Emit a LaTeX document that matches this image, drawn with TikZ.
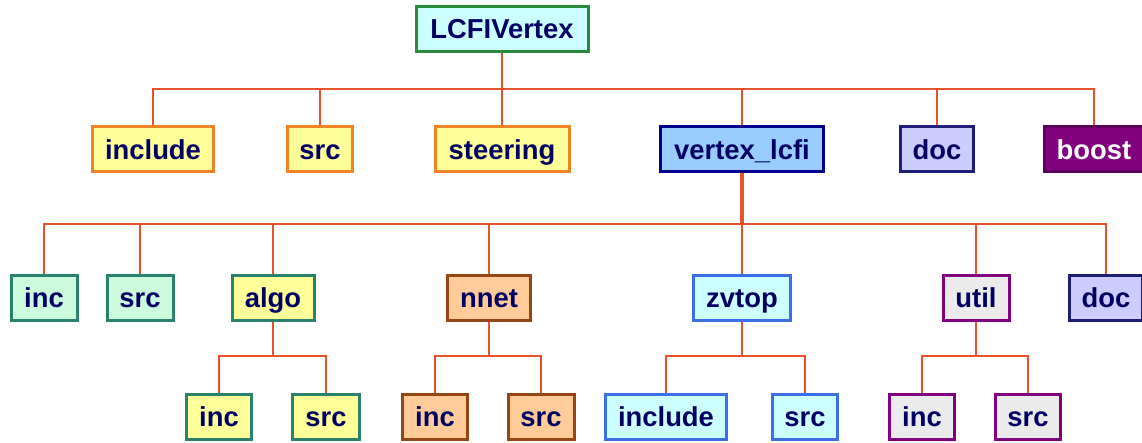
\documentclass[tikz,border=0pt]{standalone}
\usepackage{fontspec}
\setmainfont{Liberation Sans}

\definecolor{navy}{RGB}{0,0,100}
\definecolor{wire}{RGB}{232,82,40}
\definecolor{cyanfill}{RGB}{204,255,255}
\definecolor{rootdraw}{RGB}{40,140,60}
\definecolor{yelfill}{RGB}{255,255,153}
\definecolor{orng}{RGB}{240,130,40}
\definecolor{bluefill}{RGB}{153,204,255}
\definecolor{bluedraw}{RGB}{0,0,140}
\definecolor{lavfill}{RGB}{204,204,255}
\definecolor{lavdraw}{RGB}{30,30,120}
\definecolor{purp}{RGB}{128,0,128}
\definecolor{purpdraw}{RGB}{90,0,90}
\definecolor{mintfill}{RGB}{204,250,220}
\definecolor{teal}{RGB}{40,130,110}
\definecolor{peach}{RGB}{255,204,153}
\definecolor{brown}{RGB}{150,70,20}
\definecolor{zvdraw}{RGB}{60,110,230}
\definecolor{greyfill}{RGB}{235,235,235}

\begin{document}
\begin{tikzpicture}[
    x=0.5pt, y=-0.5pt,
    box/.style={draw, line width=1.5pt, inner sep=0pt, minimum height=22.5pt, text=navy,
      text height=10pt, text depth=0pt, font=\bfseries\fontsize{13.7}{16}\selectfont},
    rootbox/.style={box, fill=cyanfill, draw=rootdraw},
    yelbox/.style={box, fill=yelfill, draw=orng},
    vtxbox/.style={box, fill=bluefill, draw=bluedraw},
    docbox/.style={box, fill=lavfill, draw=lavdraw},
    boostbox/.style={box, fill=purp, draw=purpdraw, text=white},
    mintbox/.style={box, fill=mintfill, draw=teal},
    algobox/.style={box, fill=yelfill, draw=teal},
    nnetbox/.style={box, fill=peach, draw=brown},
    zvbox/.style={box, fill=cyanfill, draw=zvdraw},
    utilbox/.style={box, fill=greyfill, draw=purp},
    link/.style={draw=wire, line width=1pt}
  ]
    \useasboundingbox (0,0) rectangle (1142,443);

    % Top node
    \node[rootbox, minimum width=86pt] (root) at (502,29) {LCFIVertex};

    % First level
    \node[yelbox, minimum width=60.5pt] (inc) at (153,149.5) {include};
    \node[yelbox, minimum width=32.5pt] (src) at (320,149.5) {src};
    \node[yelbox, minimum width=67pt] (steer) at (502,149.5) {steering};
    \node[vtxbox, minimum width=81.5pt] (vtx) at (742,149.5) {vertex\_lcfi};
    \node[docbox, minimum width=36.5pt] (doc) at (937,149.5) {doc};
    \node[boostbox, minimum width=49.5pt] (boost) at (1094,149.5) {boost};

    % Second level (inside vertex_lcfi)
    \node[mintbox, minimum width=33pt] (vinc) at (44,298) {inc};
    \node[mintbox, minimum width=33pt] (vsrc) at (140,298) {src};
    \node[algobox, minimum width=41pt] (algo) at (273,298) {algo};
    \node[nnetbox, minimum width=41.5pt] (nnet) at (489,298) {nnet};
    \node[zvbox, minimum width=48.5pt] (zvtop) at (742,298) {zvtop};
    \node[utilbox, minimum width=33pt] (util) at (976,298) {util};
    \node[docbox, minimum width=36.5pt] (vdoc) at (1106,298) {doc};

    % Third level
    \node[algobox, minimum width=32.5pt] (ainc) at (219,417) {inc};
    \node[algobox, minimum width=33.5pt] (asrc) at (326,417) {src};
    \node[nnetbox, minimum width=32.5pt] (ninc) at (435,417) {inc};
    \node[nnetbox, minimum width=33pt] (nsrc) at (541,417) {src};
    \node[zvbox, minimum width=60.5pt] (zinc) at (666,417) {include};
    \node[zvbox, minimum width=32.5pt] (zsrc) at (805,417) {src};
    \node[utilbox, minimum width=32.5pt] (uinc) at (922,417) {inc};
    \node[utilbox, minimum width=32.5pt] (usrc) at (1028,417) {src};

    % Bus junctions
    \coordinate (bus1) at (502,89);
    \coordinate (bus2) at (742,224);
    \coordinate (abus) at (273,356);
    \coordinate (nbus) at (489,356);
    \coordinate (zbus) at (742,356);
    \coordinate (ubus) at (976,356);

    % Top tree
    \draw[link] (root.south) -- (steer.north);
    \draw[link] (bus1) -| (inc.north);
    \draw[link] (bus1) -| (src.north);
    \draw[link] (bus1) -| (vtx.north);
    \draw[link] (bus1) -| (doc.north);
    \draw[link] (bus1) -| (boost.north);

    % vertex_lcfi tree
    \draw[link, line width=2pt] (vtx.south) -- (bus2);
    \draw[link] (bus2) -| (vinc.north);
    \draw[link] (bus2) -| (vsrc.north);
    \draw[link] (bus2) -| (algo.north);
    \draw[link] (bus2) -| (nnet.north);
    \draw[link] (bus2) -- (zvtop.north);
    \draw[link] (bus2) -| (util.north);
    \draw[link] (bus2) -| (vdoc.north);

    % Sub trees
    \draw[link] (algo.south) -- (abus) -| (ainc.north);
    \draw[link] (abus) -| (asrc.north);
    \draw[link] (nnet.south) -- (nbus) -| (ninc.north);
    \draw[link] (nbus) -| (nsrc.north);
    \draw[link] (zvtop.south) -- (zbus) -| (zinc.north);
    \draw[link] (zbus) -| (zsrc.north);
    \draw[link] (util.south) -- (ubus) -| (uinc.north);
    \draw[link] (ubus) -| (usrc.north);
\end{tikzpicture}
\end{document}
